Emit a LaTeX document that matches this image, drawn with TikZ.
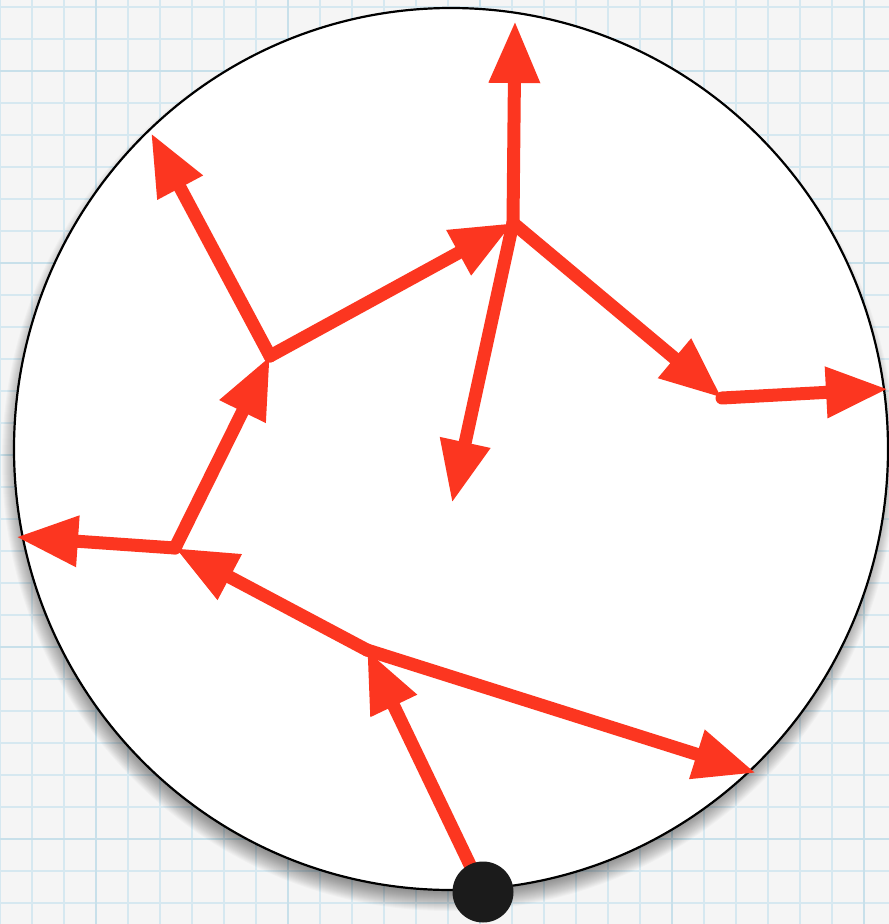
\documentclass[tikz,border=0pt]{standalone}
\usetikzlibrary{arrows.meta}
\definecolor{arrred}{RGB}{252,54,32}
\definecolor{gridminor}{RGB}{214,232,240}
\definecolor{gridmajor}{RGB}{200,224,234}
\definecolor{paper}{RGB}{245,245,245}
\definecolor{dotblack}{RGB}{27,27,27}
\tikzset{
  tree/.style={draw=arrred, line width=13pt, line cap=round,
    -{Triangle[length=62pt,width=48pt]}},
  gminor/.style={draw=gridminor, line width=1.3pt},
  gmajor/.style={draw=gridmajor, line width=2.6pt},
}
\begin{document}
\begin{tikzpicture}[x=1pt,y=-1pt]
\useasboundingbox (0,0) rectangle (889,924);
\fill[paper] (0,0) rectangle (889,924);
% grid
\foreach \i in {0,...,28} { \draw[gminor] (32*\i,0) -- (32*\i,924); }
\foreach \i in {0,...,28} { \draw[gminor] (0,7+32*\i) -- (889,7+32*\i); }
\foreach \i in {0,...,4} { \draw[gmajor] (96+192*\i,0) -- (96+192*\i,924); }
\foreach \i in {0,...,4} { \draw[gmajor] (0,71+192*\i) -- (889,71+192*\i); }
% shadow
\foreach \r in {0,...,24} {
  \fill[black, opacity=0.025] (449,460) ellipse [x radius={437+10-\r}, y radius={441+10-\r}];
}
% disc
\draw[fill=white, line width=2.2pt] (451,449) ellipse [x radius=437, y radius=441];
% tree points
\coordinate (root) at (483,892);
\coordinate (A) at (367,650);
\coordinate (B) at (175,548);
\coordinate (C) at (756,773);
\coordinate (D) at (16,537);
\coordinate (E) at (270,356);
\coordinate (F) at (151,133);
\coordinate (G) at (513,223);
\coordinate (H) at (515,21);
\coordinate (I) at (452,503);
\coordinate (J) at (722,398);
\coordinate (K) at (888,389);
\draw[tree] (root) -- (A);
\draw[tree] (A) -- (B);
\draw[tree] (A) -- (C);
\draw[tree] (B) -- (D);
\draw[tree] (B) -- (E);
\draw[tree] (E) -- (F);
\draw[tree] (E) -- (G);
\draw[tree] (G) -- (H);
\draw[tree] (G) -- (I);
\draw[tree] (G) -- (J);
\draw[tree] (J) -- (K);
\node[circle, fill=dotblack, minimum size=61pt, inner sep=0pt] (dot) at (root) {};
\end{tikzpicture}
\end{document}
